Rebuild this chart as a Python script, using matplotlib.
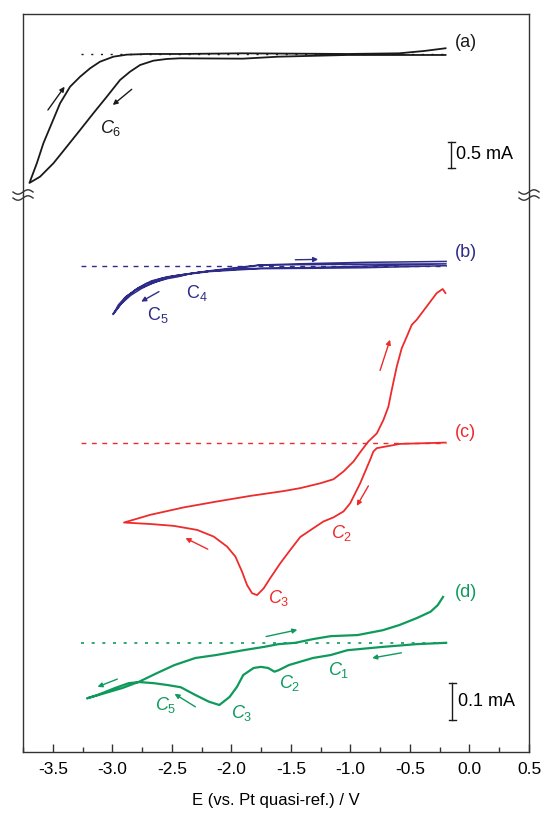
import numpy as np
import matplotlib
matplotlib.use('Agg')
from matplotlib import pyplot as plt
from matplotlib.lines import Line2D

plt.rcParams['font.family'] = ['Liberation Sans', 'DejaVu Sans']
plt.rcParams['mathtext.fontset'] = 'custom'
plt.rcParams['mathtext.rm'] = 'Liberation Sans'
plt.rcParams['mathtext.it'] = 'Liberation Sans:italic'

# ---- data: potential E (V) and current I (mA) ----
# (a) one sweep to -3.7 V and back, 0.5 mA scale
a_E = [-0.20, -1.026, -1.603, -1.900, -2.427, -2.539, -2.651, -2.762, -2.846,
       -2.930, -3.041, -3.154, -3.265, -3.377, -3.489, -3.601, -3.69,
       -3.628, -3.573, -3.503, -3.433, -3.349, -3.265, -3.181, -3.098, -2.986,
       -2.874, -2.706, -2.427, -1.900, -1.026, -0.589, -0.379, -0.20]
a_I = [-0.019, -0.019, -0.052, -0.090, -0.083, -0.096, -0.129, -0.212, -0.340,
       -0.500, -0.821, -1.140, -1.462, -1.783, -2.102, -2.360, -2.48,
       -2.102, -1.717, -1.333, -0.948, -0.629, -0.437, -0.275, -0.148, -0.052,
       -0.013, 0.000, 0.000, 0.013, 0.000, 0.013, 0.058, 0.110]

# (b) two cycles to -3.0 V
b_E = [-0.196, -0.878, -1.315, -1.752, -1.927, -2.189, -2.364, -2.451, -2.538,
       -2.626, -2.713, -2.801, -2.888, -2.949, -2.993,
       -2.932, -2.871, -2.783, -2.670, -2.538, -2.407, -2.189, -1.927, -1.752,
       -1.315, -0.878, -0.196,
       -0.878, -1.315, -1.752, -1.927, -2.189, -2.320, -2.407, -2.495, -2.582,
       -2.670, -2.757, -2.845, -2.932, -2.993,
       -2.949, -2.888, -2.801, -2.713, -2.582, -2.451, -2.364, -2.189, -1.927,
       -1.752, -1.315, -0.878, -0.196]
b_I = [0.002, -0.0035, -0.005, -0.006, -0.009, -0.014, -0.021, -0.028, -0.033,
       -0.041, -0.052, -0.063, -0.082, -0.104, -0.130,
       -0.104, -0.079, -0.058, -0.039, -0.028, -0.022, -0.012, -0.002, 0.004,
       0.005, 0.006, 0.007,
       0.001, -0.003, -0.005, -0.007, -0.013, -0.018, -0.024, -0.027, -0.036,
       -0.046, -0.060, -0.078, -0.103, -0.128,
       -0.110, -0.084, -0.062, -0.046, -0.032, -0.024, -0.020, -0.013, -0.004,
       0.004, 0.008, 0.011, 0.0135]

# (c) one cycle to -2.9 V
c_E = [-0.20, -0.583, -0.778, -0.807, -0.835, -0.876, -0.918, -0.960, -1.002,
       -1.058, -1.142, -1.226, -1.310, -1.421, -1.505, -1.589, -1.673, -1.729,
       -1.784, -1.826, -1.868, -1.910, -1.966, -2.036, -2.148, -2.287, -2.483,
       -2.679, -2.902,
       -2.679, -2.399, -2.119, -1.840, -1.561, -1.421, -1.254, -1.142, -1.058,
       -0.974, -0.904, -0.849, -0.778, -0.723, -0.681, -0.653, -0.611, -0.569,
       -0.527, -0.485, -0.443, -0.359, -0.275, -0.225, -0.202]
c_I = [0.000, -0.0035, -0.015, -0.024, -0.047, -0.078, -0.110, -0.137, -0.164,
       -0.186, -0.202, -0.213, -0.231, -0.255, -0.290, -0.326, -0.366, -0.394,
       -0.412, -0.407, -0.385, -0.349, -0.308, -0.281, -0.254, -0.236, -0.225,
       -0.220, -0.216,
       -0.195, -0.175, -0.159, -0.144, -0.131, -0.123, -0.110, -0.099, -0.078,
       -0.051, -0.020, 0.003, 0.025, 0.061, 0.097, 0.142, 0.205, 0.255,
       0.286, 0.318, 0.332, 0.368, 0.404, 0.415, 0.404]

# (d) one cycle to -3.2 V
d_E = [-0.196, -0.441, -0.729, -1.026, -1.166, -1.315, -1.516, -1.603, -1.638,
       -1.691, -1.752, -1.813, -1.900, -1.953, -2.014, -2.101, -2.189, -2.302,
       -2.425, -2.538, -2.652, -2.774, -2.862, -2.976, -3.124, -3.212,
       -3.063, -2.914, -2.774, -2.626, -2.477, -2.302, -2.128, -1.900, -1.726,
       -1.603, -1.463, -1.315, -1.166, -0.939, -0.729, -0.589, -0.441, -0.327,
       -0.266, -0.222]
d_I = [0.000, -0.0035, -0.011, -0.020, -0.033, -0.041, -0.060, -0.074, -0.078,
       -0.068, -0.065, -0.068, -0.087, -0.119, -0.146, -0.168, -0.159, -0.141,
       -0.120, -0.114, -0.109, -0.106, -0.109, -0.122, -0.141, -0.150,
       -0.136, -0.122, -0.105, -0.082, -0.060, -0.041, -0.033, -0.020, -0.011,
       -0.0035, 0.000, 0.010, 0.018, 0.021, 0.034, 0.048, 0.067, 0.084,
       0.102, 0.124]

xticks = [-3.5, -3.0, -2.5, -2.0, -1.5, -1.0, -0.5, 0.0, 0.5]
xticklabels = ['-3.5', '-3.0', '-2.5', '-2.0', '-1.5', '-1.0', '-0.5', '0.0', '0.5']

# ---- layout / styles ----
W, H = 544, 814
black, navy, red, green = '#1a1a1a', '#2e2c88', '#ee2b2b', '#0f9a5c'
off_b, off_c, off_d = 1.312, 0.836, 0.295   # vertical offsets in lower panel
zero_start = -3.26

fig = plt.figure(figsize=(W / 100, H / 100), dpi=100)
left, right, top, brk, bottom = 23 / W, 529 / W, 14 / H, 195 / H, 752 / H
ax_top = fig.add_axes([left, 1 - brk, right - left, brk - top])
ax = fig.add_axes([left, 1 - bottom, right - left, bottom - brk])

for a in (ax_top, ax):
    a.set_xlim(-3.744, 0.5)
    for s in a.spines.values():
        s.set_linewidth(1.0)
        s.set_color('#333333')
    a.set_yticks([])
ax_top.set_ylim(-2.712, 0.769)
ax_top.spines['bottom'].set_visible(False)
ax_top.set_xticks([])
ax.set_ylim(0, 1.505)
ax.spines['top'].set_visible(False)

ax.set_xticks(xticks)
ax.set_xticklabels(xticklabels)
ax.set_xticks(np.arange(-3.75, 0.51, 0.25), minor=True)
ax.tick_params(axis='x', which='major', direction='in', length=6, width=1,
               labelsize=12.5, pad=7, color='#333333')
ax.tick_params(axis='x', which='minor', direction='in', length=3.5, width=1,
               color='#333333')
ax.set_xlabel('E (vs. Pt quasi-ref.) / V', fontsize=12, labelpad=12)

lw = 1.3
# (a)
ax_top.plot(a_E, a_I, color=black, lw=lw)
ax_top.plot([zero_start, max(a_E)], [0, 0], color=black, lw=1.0,
            dashes=(1.5, 5.5))
# (b)
ax.plot(b_E, np.array(b_I) + off_b, color=navy, lw=1.1)
ax.plot([zero_start, max(b_E)], [off_b, off_b], color=navy, lw=1.0,
        dashes=(3.5, 4))
# (c)
ax.plot(c_E, np.array(c_I) + off_c, color=red, lw=lw)
ax.plot([zero_start, max(c_E)], [off_c, off_c], color=red, lw=1.0,
        dashes=(3.5, 4))
# (d)
ax.plot(d_E, np.array(d_I) + off_d, color=green, lw=lw + 0.3)
ax.plot([zero_start, max(d_E)], [off_d, off_d], color=green, lw=1.2,
        dashes=(1.8, 4.6))


def arrow(a, tail, head, color):
    a.annotate('', xy=head, xytext=tail,
               arrowprops=dict(arrowstyle='-|>', color=color, lw=1.0,
                               mutation_scale=7, shrinkA=0, shrinkB=0))


def label(a, x, y, s, color, size=13):
    a.text(x, y, s, color=color, fontsize=size, ha='center', va='center')


# annotations (a)
arrow(ax_top, (-3.535, -1.077), (-3.395, -0.629), black)
arrow(ax_top, (-2.832, -0.679), (-2.991, -0.981), black)
label(ax_top, -3.01, -1.42, r'$C_6$', black)
label(ax_top, -0.03, 0.23, '(a)', black)
ax_top.plot([-0.152, -0.152], [-2.192, -1.692], color=black, lw=1.0)
ax_top.plot([-0.18, -0.124], [-2.192, -2.192], color=black, lw=1.0)
ax_top.plot([-0.18, -0.124], [-1.692, -1.692], color=black, lw=1.0)
ax_top.text(-0.11, -1.94, '0.5 mA', fontsize=13, ha='left', va='center')

# annotations (b)
arrow(ax, (-1.463, 1.330), (-1.271, 1.331), navy)
arrow(ax, (-2.608, 1.244), (-2.757, 1.217), navy)
label(ax, -2.29, 1.241, r'C$_4$', navy)
label(ax, -2.62, 1.181, r'C$_5$', navy)
label(ax, -0.03, 1.349, '(b)', navy)

# annotations (c)
arrow(ax, (-0.751, 1.031), (-0.667, 1.114), red)
arrow(ax, (-0.849, 0.719), (-0.946, 0.665), red)
arrow(ax, (-2.198, 0.548), (-2.385, 0.578), red)
label(ax, -1.07, 0.591, r'$C_2$', red)
label(ax, -1.60, 0.415, r'$C_3$', red)
label(ax, -0.03, 0.862, '(c)', red)

# annotations (d)
arrow(ax, (-1.708, 0.312), (-1.446, 0.330), green)
arrow(ax, (-0.572, 0.268), (-0.817, 0.254), green)
arrow(ax, (-2.958, 0.197), (-3.124, 0.176), green)
arrow(ax, (-2.302, 0.122), (-2.477, 0.157), green)
label(ax, -1.10, 0.222, r'$C_1$', green)
label(ax, -1.51, 0.186, r'$C_2$', green)
label(ax, -1.91, 0.105, r'$C_3$', green)
label(ax, -2.55, 0.127, r'$C_5$', green)
label(ax, -0.03, 0.432, '(d)', green)
ax.plot([-0.143, -0.143], [0.0865, 0.1865], color=black, lw=1.0)
ax.plot([-0.171, -0.115], [0.0865, 0.0865], color=black, lw=1.0)
ax.plot([-0.171, -0.115], [0.1865, 0.1865], color=black, lw=1.0)
ax.text(-0.10, 0.136, '0.1 mA', fontsize=13, ha='left', va='center')

# axis break marks on both side spines
t = np.linspace(-1, 1, 40)
for px in (23, 529):
    for py in (192, 198):
        xs = (px + 10 * t) / W
        ys = 1 - (py - 2.2 * np.sin(np.pi * t)) / H
        fig.add_artist(Line2D(xs, ys, color='#333333', lw=1.0))

fig.savefig('out.png', dpi=100)
